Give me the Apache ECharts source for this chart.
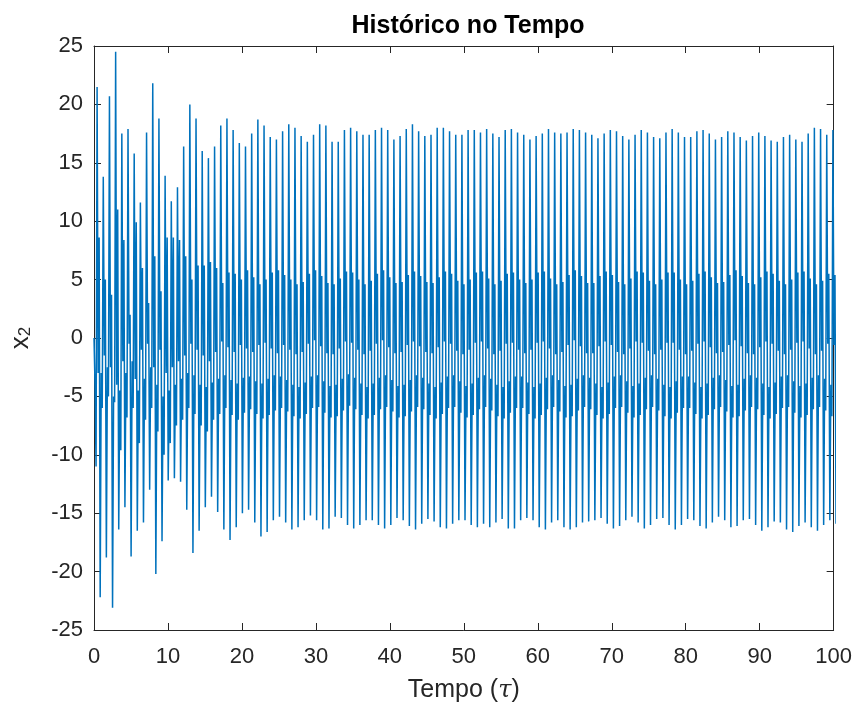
<!DOCTYPE html>
<html>
<head>
<meta charset="utf-8">
<script src="https://cdn.jsdelivr.net/npm/echarts@6/dist/echarts.min.js"></script>
<style>
html,body{margin:0;padding:0;background:#fff;}
#chart{width:855px;height:708px;}
</style>
</head>
<body>
<div id="chart"></div>
<script>
// ---- data (one entry per oscillation cycle) ----
const titleText = 'Histórico no Tempo';
const xTicks = [0, 10, 20, 30, 40, 50, 60, 70, 80, 90, 100];
const yTicks = [-25, -20, -15, -10, -5, 0, 5, 10, 15, 20, 25];
const cyclePeriod = 0.836;   // time units per cycle (read from the peak spacing)
const x2Start = 0;

const peaks = [
  21.5, 13.8, 20.7, 24.5, 17.5, 17.9, 15.8, 11.6, 17.6, 21.8,
  18.8, 13.9, 11.7, 12.9, 16.4, 20.0, 18.8, 16.0, 15.4, 16.4,
  18.2, 18.8, 17.8, 16.7, 16.4, 17.5, 18.7, 18.2, 17.2, 17.0,
  17.7, 18.3, 18.0, 17.3, 16.8, 17.4, 18.3, 18.2, 16.8, 16.8,
  17.8, 18.0, 17.7, 17.4, 17.4, 17.8, 18.0, 17.8, 17.0, 17.3,
  17.9, 18.3, 17.7, 17.3, 17.4, 18.0, 18.0, 17.7, 17.4, 17.4,
  17.8, 17.8, 17.6, 17.9, 17.5, 17.2, 17.8, 17.9, 17.6, 17.4,
  17.0, 17.3, 17.5, 17.9, 17.6, 17.5, 17.6, 17.9, 17.8, 17.6,
  17.4, 17.1, 17.5, 17.8, 17.7, 17.3, 17.0, 17.4, 17.8, 17.6,
  17.2, 17.1, 17.6, 17.9, 17.6, 17.2, 17.2, 17.7, 17.8, 17.5,
  17.0, 17.2, 17.7, 17.6, 17.2, 16.9, 17.3, 17.6, 17.3, 16.9,
  16.8, 17.2, 17.4, 17.0, 16.8, 17.5, 18.0, 17.9, 17.4, 17.8
];
const troughs = [
  -22.2, -18.8, -23.1, -16.4, -14.5, -18.7, -16.5, -15.8, -13.0, -20.2,
  -17.4, -12.2, -12.0, -12.3, -14.7, -18.4, -16.5, -14.5, -13.6, -14.9,
  -16.4, -17.3, -16.2, -15.0, -14.7, -15.8, -17.0, -16.6, -15.6, -15.3,
  -15.8, -16.4, -16.2, -15.6, -15.2, -15.6, -16.4, -16.3, -15.3, -15.4,
  -16.0, -16.3, -16.0, -15.6, -15.6, -16.0, -16.3, -16.0, -15.4, -15.6,
  -16.1, -16.4, -15.9, -15.5, -15.7, -16.2, -16.3, -15.9, -15.6, -15.6,
  -16.0, -16.2, -15.9, -16.2, -15.8, -15.5, -16.3, -16.3, -15.6, -15.4,
  -15.6, -16.2, -16.4, -15.8, -15.6, -16.2, -16.4, -16.2, -15.8, -15.7,
  -15.6, -15.4, -15.9, -16.3, -16.1, -15.6, -15.3, -15.8, -16.3, -16.0,
  -15.5, -15.4, -16.0, -16.4, -16.0, -15.5, -15.6, -16.1, -16.3, -15.8,
  -15.3, -15.6, -16.2, -16.1, -15.6, -15.5, -16.0, -16.5, -16.2, -15.7,
  -15.8, -16.4, -16.6, -16.1, -15.8, -16.2, -16.5, -16.0, -15.6, -15.9
];
// local maximum after the peak (top of the upper dark band)
const highMax = [
  8.6, 5.0, 3.7, 11.0, 8.4, 2.0, 9.9, 6.0, 3.0, 7.0,
  4.0, 8.6, 8.6, 8.4, 7.0, 5.0, 6.2, 6.2, 6.5, 6.0,
  4.7, 5.6, 5.5, 5.0, 5.8, 5.2, 4.6, 5.0, 5.6, 5.8,
  5.4, 5.0, 4.6, 4.8, 5.5, 5.8, 5.3, 4.7, 4.6, 5.1,
  5.7, 5.6, 5.0, 4.6, 4.9, 5.5, 5.8, 5.2, 4.7, 4.8,
  5.4, 5.7, 5.3, 4.8, 4.7, 5.2, 5.7, 5.5, 4.9, 4.6,
  5.0, 5.6, 5.7, 5.1, 4.6, 4.9, 5.5, 5.6, 5.0, 4.7,
  5.0, 5.6, 5.7, 5.1, 4.6, 4.8, 5.4, 5.8, 5.3, 4.7,
  4.7, 5.3, 5.7, 5.4, 4.8, 4.6, 5.1, 5.7, 5.6, 4.9,
  4.6, 5.0, 5.6, 5.6, 5.0, 4.6, 4.9, 5.5, 5.7, 5.2,
  4.7, 4.8, 5.4, 5.8, 5.3, 4.7, 4.6, 5.2, 5.7, 5.5,
  4.9, 4.6, 5.0, 5.6, 5.7, 5.1, 4.6, 4.9, 5.5, 5.4
];
// local minimum after the peak (bottom of the upper dark band)
const highMin = [
  -3.0, -1.5, -2.5, -4.0, -2.0, -0.5, -3.5, -1.0, -0.5, -2.5,
  -1.0, -3.0, -2.5, -2.0, -1.5, -0.5, -1.0, -1.5, -2.0, -1.2,
  -0.3, -0.8, -1.2, -0.6, -0.9, -1.2, -0.6, -0.4, -0.9, -1.3,
  -0.6, -1.0, -1.4, -1.2, -0.5, -0.2, -0.7, -1.3, -1.4, -0.9,
  -0.3, -0.4, -1.0, -1.4, -1.1, -0.5, -0.2, -0.8, -1.3, -1.2,
  -0.6, -0.3, -0.7, -1.2, -1.3, -0.8, -0.3, -0.5, -1.1, -1.4,
  -1.0, -0.4, -0.3, -0.9, -1.4, -1.1, -0.5, -0.4, -1.0, -1.3,
  -1.0, -0.4, -0.3, -0.9, -1.4, -1.2, -0.6, -0.2, -0.7, -1.3,
  -1.3, -0.7, -0.3, -0.6, -1.2, -1.4, -0.9, -0.3, -0.4, -1.1,
  -1.4, -1.0, -0.4, -0.4, -1.0, -1.4, -1.1, -0.5, -0.3, -0.8,
  -1.3, -1.2, -0.6, -0.2, -0.7, -1.3, -1.4, -0.8, -0.3, -0.5,
  -1.1, -1.4, -1.0, -0.4, -0.3, -0.9, -1.4, -1.1, -0.5, -0.6
];
// local maximum before the peak (top of the lower dark band)
const lowMax = [
  -4.0, -3.0, -2.5, -5.0, -4.5, -3.0, -2.0, -4.5, -3.5, -2.5,
  -4.0, -5.0, -4.5, -4.0, -3.5, -3.0, -3.2, -4.0, -4.2, -3.8,
  -3.5, -3.2, -3.6, -3.9, -3.4, -3.3, -3.7, -3.9, -3.5, -3.2,
  -3.3, -3.6, -4.0, -4.2, -3.8, -3.3, -3.2, -3.7, -4.1, -4.0,
  -3.5, -3.1, -3.4, -3.9, -4.2, -3.9, -3.4, -3.2, -3.6, -4.1,
  -4.0, -3.6, -3.2, -3.4, -3.9, -4.2, -3.8, -3.3, -3.2, -3.7,
  -4.1, -3.9, -3.4, -3.2, -3.5, -4.0, -4.2, -3.7, -3.3, -3.3,
  -3.8, -4.2, -3.9, -3.4, -3.2, -3.6, -4.1, -4.0, -3.5, -3.2,
  -3.4, -3.9, -4.2, -3.8, -3.3, -3.2, -3.7, -4.1, -3.9, -3.4,
  -3.2, -3.5, -4.0, -4.2, -3.7, -3.3, -3.3, -3.8, -4.2, -3.9,
  -3.4, -3.2, -3.6, -4.1, -4.0, -3.5, -3.2, -3.4, -3.9, -4.2,
  -3.8, -3.3, -3.2, -3.7, -4.1, -3.9, -3.4, -3.2, -3.5, -4.0
];
// local minimum before the peak (bottom of the lower dark band)
const lowMin = [
  -11.0, -6.0, -5.0, -5.5, -9.6, -6.8, -6.0, -9.0, -7.0, -6.0,
  -8.0, -10.0, -9.0, -7.5, -7.0, -6.0, -6.5, -7.5, -8.0, -7.0,
  -6.5, -6.0, -6.6, -7.0, -6.4, -6.1, -6.5, -6.9, -6.6, -6.2,
  -6.0, -6.3, -6.7, -6.9, -6.5, -6.0, -5.9, -6.4, -6.8, -6.7,
  -6.2, -5.8, -6.1, -6.6, -6.9, -6.6, -6.1, -5.9, -6.3, -6.8,
  -6.7, -6.3, -5.9, -6.1, -6.6, -6.9, -6.5, -6.0, -5.9, -6.4,
  -6.8, -6.6, -6.1, -5.9, -6.2, -6.7, -6.9, -6.4, -6.0, -6.0,
  -6.5, -6.9, -6.6, -6.1, -5.9, -6.3, -6.8, -6.7, -6.2, -5.9,
  -6.1, -6.6, -6.9, -6.5, -6.0, -5.9, -6.4, -6.8, -6.6, -6.1,
  -5.9, -6.2, -6.7, -6.9, -6.4, -6.0, -6.0, -6.5, -6.9, -6.6,
  -6.1, -5.9, -6.3, -6.8, -6.7, -6.2, -5.9, -6.1, -6.6, -6.9,
  -6.5, -6.0, -5.9, -6.4, -6.8, -6.6, -6.1, -5.9, -6.2, -6.7
];

// ---- build the time series (uniformly sampled, 6 samples per cycle) ----
const nCycles = Math.min(peaks.length, troughs.length, highMax.length, highMin.length, lowMax.length, lowMin.length);
const samplesPerCycle = 6;
const dt = cyclePeriod / samplesPerCycle;
const seriesData = [[0, x2Start]];
let idx = 1;
for (let k = 0; k < nCycles; k++) {
  const cyc = [lowMax[k], lowMin[k], peaks[k], highMin[k], highMax[k], troughs[k]];
  for (const v of cyc) { seriesData.push([idx * dt, v]); idx++; }
}

const axisColor = '#262626';
const fontFam = 'Liberation Sans, Arial, Helvetica, sans-serif';
const chart = echarts.init(document.getElementById('chart'), null, {renderer: 'canvas'});

function xAx(pos, showLabel) {
  return {
    type: 'value', position: pos, min: xTicks[0], max: xTicks[xTicks.length - 1],
    interval: xTicks[1] - xTicks[0],
    axisLine: {show: true, onZero: false, lineStyle: {color: axisColor, width: 1}},
    axisTick: {show: true, inside: true, length: 7, lineStyle: {color: axisColor, width: 1}},
    axisLabel: {show: showLabel, color: axisColor, fontSize: 22, fontFamily: fontFam, margin: 16},
    splitLine: {show: false}
  };
}
function yAx(pos, showLabel) {
  return {
    type: 'value', position: pos, min: yTicks[0], max: yTicks[yTicks.length - 1],
    interval: yTicks[1] - yTicks[0],
    axisLine: {show: true, onZero: false, lineStyle: {color: axisColor, width: 1}},
    axisTick: {show: true, inside: true, length: 7, lineStyle: {color: axisColor, width: 1}},
    axisLabel: {show: showLabel, color: axisColor, fontSize: 22, fontFamily: fontFam, margin: 11},
    splitLine: {show: false}
  };
}

const xBottom = xAx('bottom', true);
xBottom.name = '{t|Tempo (}{i|τ}{t|)}';
xBottom.nameLocation = 'middle';
xBottom.nameGap = 48;
xBottom.nameTextStyle = {
  rich: {
    t: {fontSize: 25, fontFamily: fontFam, color: axisColor},
    i: {fontSize: 24, fontFamily: 'DejaVu Serif, Liberation Serif, serif', fontStyle: 'italic', color: axisColor}
  }
};
const yLeft = yAx('left', true);
yLeft.name = '{x|x}{s|2}';
yLeft.nameLocation = 'middle';
yLeft.nameGap = 60;
yLeft.nameRotate = 90;
yLeft.nameTextStyle = {
  rich: {
    x: {fontSize: 26, fontFamily: fontFam, color: axisColor, verticalAlign: 'bottom', lineHeight: 34},
    s: {fontSize: 17, fontFamily: fontFam, color: axisColor, verticalAlign: 'bottom', lineHeight: 14}
  }
};

chart.setOption({
  animation: false,
  backgroundColor: '#ffffff',
  title: {
    text: titleText, left: 463, textAlign: 'center', top: 9,
    textStyle: {fontSize: 25, fontWeight: 'bold', fontFamily: fontFam, color: '#000000'}
  },
  grid: {left: 93, right: 21, top: 46, bottom: 78, containLabel: false},
  xAxis: [xBottom, xAx('top', false)],
  yAxis: [yLeft, yAx('right', false)],
  series: [{
    type: 'line', xAxisIndex: 0, yAxisIndex: 0,
    data: seriesData, showSymbol: false, symbol: 'none', sampling: null,
    clip: true, smooth: false,
    lineStyle: {color: '#0072BD', width: 1.5},
    silent: true
  }]
});
</script>
</body>
</html>
